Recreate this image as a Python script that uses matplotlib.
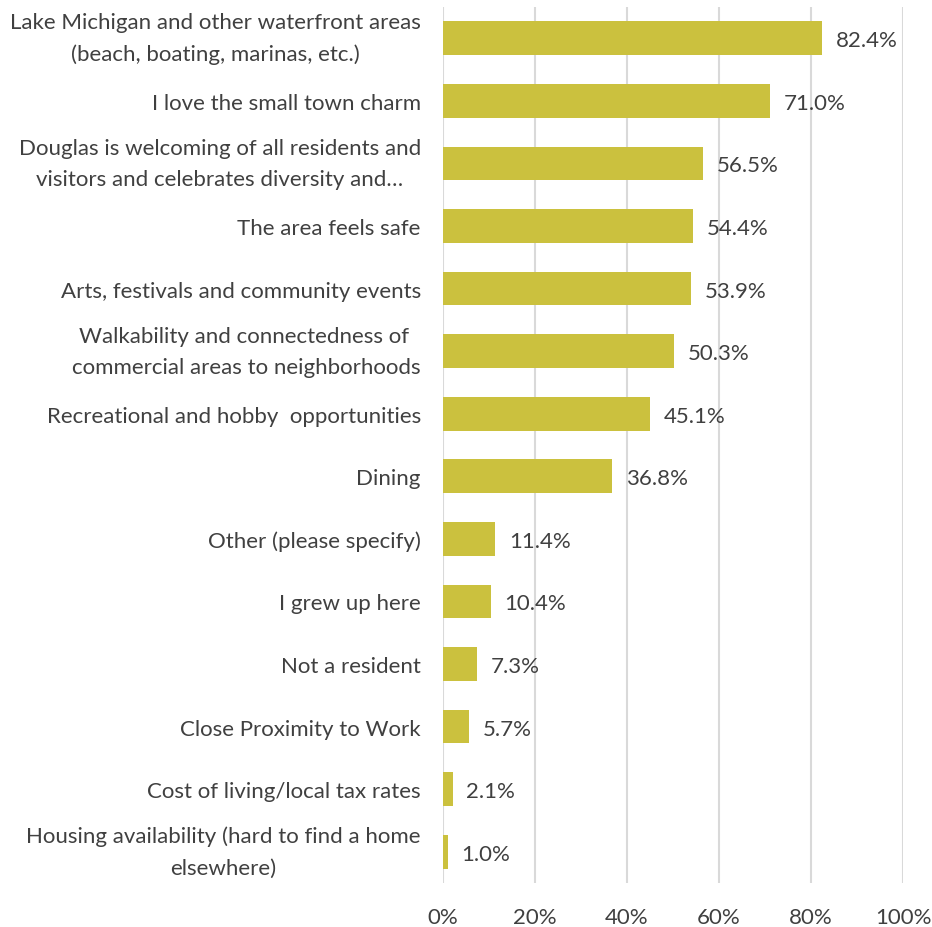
import matplotlib.pyplot as plt

categories = [
    "Lake Michigan and other waterfront areas\n(beach, boating, marinas, etc.)",
    "I love the small town charm",
    "Douglas is welcoming of all residents and\nvisitors and celebrates diversity and\u2026",
    "The area feels safe",
    "Arts, festivals and community events",
    "Walkability and connectedness of \ncommercial areas to neighborhoods",
    "Recreational and hobby  opportunities",
    "Dining",
    "Other (please specify)",
    "I grew up here",
    "Not a resident",
    "Close Proximity to Work",
    "Cost of living/local tax rates",
    "Housing availability (hard to find a home\nelsewhere)",
]
values = [82.4, 71.0, 56.5, 54.4, 53.9, 50.3, 45.1, 36.8, 11.4, 10.4, 7.3, 5.7, 2.1, 1.0]
xticks = [0, 20, 40, 60, 80, 100]

plt.rcParams['font.family'] = ['Lato', 'DejaVu Sans']
text_color = '#404040'

fig = plt.figure(figsize=(9.32, 9.28), dpi=100)
ax = fig.add_axes([0.4753, 0.0474, 0.4936, 0.944])

y = list(range(len(categories)))
ax.barh(y, values, height=0.54, color='#CBC13E', zorder=3)

for yi, v in zip(y, values):
    ax.text(v + 3.0, yi, f"{v:.1f}%", va='center_baseline', ha='left',
            fontsize=16, color=text_color, zorder=4)

ax.set_xlim(0, 100)
ax.set_ylim(len(categories) - 0.5, -0.5)
ax.set_xticks(xticks)
ax.set_xticklabels([f"{t}%" for t in xticks], fontsize=16, color=text_color)
ax.set_yticks(y)
ax.set_yticklabels(categories, fontsize=16, color=text_color,
                   multialignment='center', linespacing=1.7)
# two-line labels: center the whole block on the bar
for lbl in ax.get_yticklabels():
    if "\n" in lbl.get_text():
        lbl.set_va('center')

ax.grid(axis='x', color='#D9D9D9', linewidth=1.5, zorder=0)
ax.tick_params(axis='both', length=0)
ax.tick_params(axis='y', pad=16)
ax.tick_params(axis='x', pad=17)
for s in ax.spines.values():
    s.set_visible(False)

fig.savefig('out.png', dpi=100)
